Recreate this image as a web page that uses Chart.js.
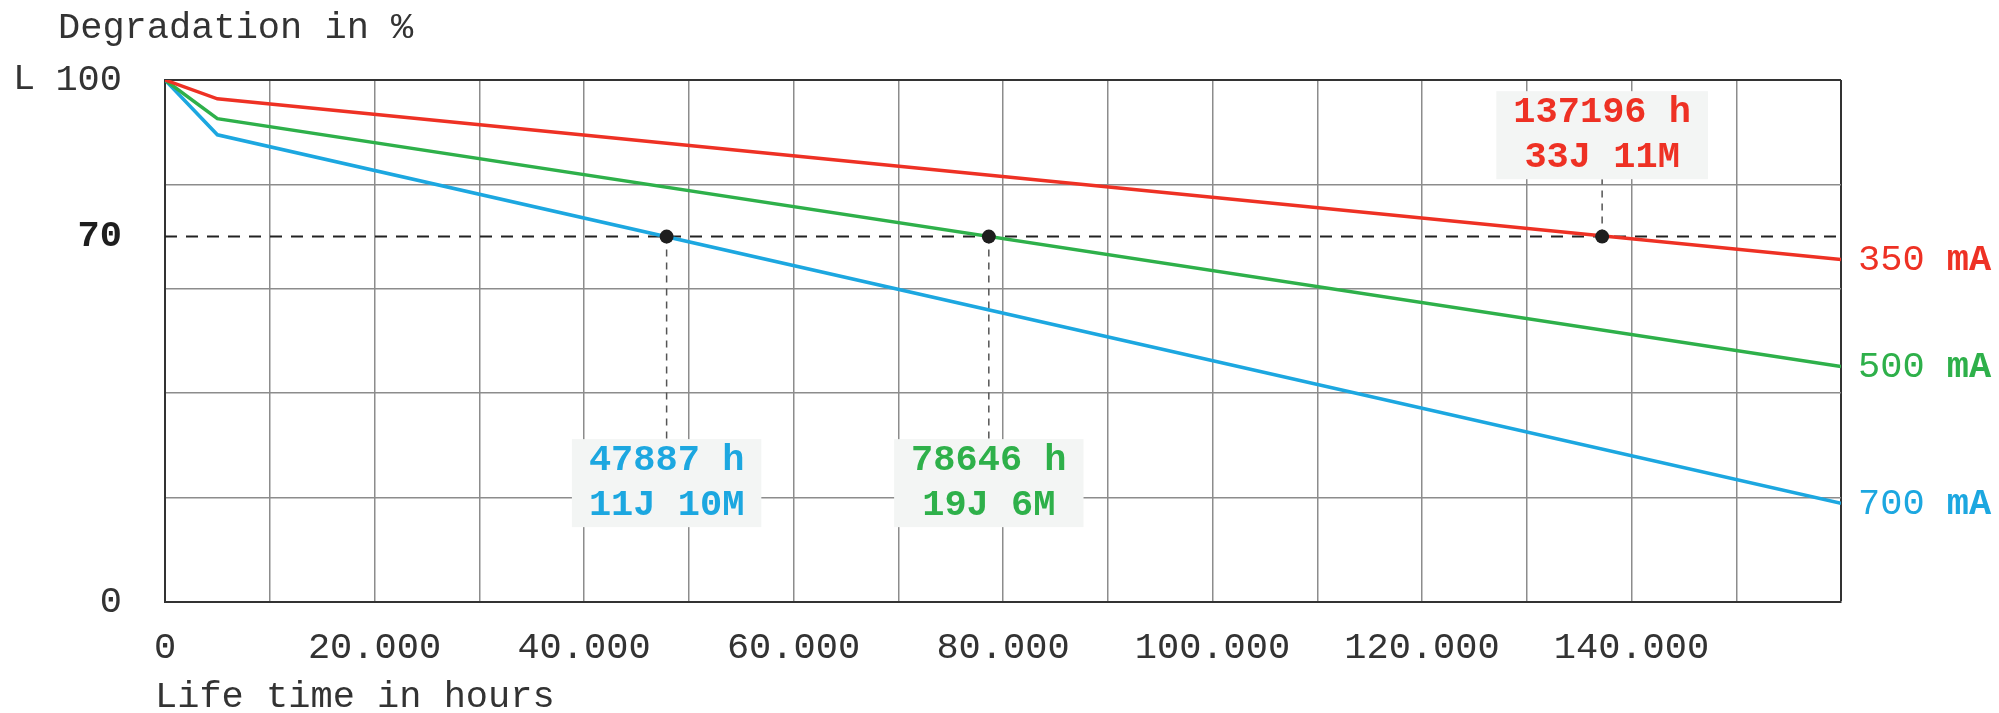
<!DOCTYPE html>
<html>
<head>
<meta charset="utf-8">
<script src="https://cdn.jsdelivr.net/npm/chart.js@4.4.1/dist/chart.umd.min.js"></script>
<style>
html, body { margin: 0; padding: 0; background: #fff; }
</style>
</head>
<body>
<canvas id="lifeChart" width="1999" height="713"></canvas>
<script>
// life time in hours vs remaining luminous flux (%)
const hours = [0, 5000, 160000];
const flux350 = [100, 96.4, 65.6];
const flux500 = [100, 92.6, 45.1];
const flux700 = [100, 89.5, 18.9];
const seriesNames = ['350', '500', '700'];
const seriesColors = ['#ee3124', '#2eb04a', '#1ca7e0'];
const l70Level = 70;
const l70Hours = [137196, 78646, 47887];
const l70Text = [['137196 h', '33J 11M'], ['78646 h', '19J 6M'], ['47887 h', '11J 10M']];
const yTickValues = [0, 20, 40, 60, 70, 80, 100];
const yLabelValues = [0, 70, 100];

const MONO = '"Liberation Mono", "DejaVu Sans Mono", monospace';
const textGray = '#333';

function pts(ys) {
    return hours.map((h, i) => ({ x: h, y: ys[i] }));
}

const annotations = {
    id: 'annotations',
    beforeDatasetsDraw(chart) {
        const ctx = chart.ctx;
        const xs = chart.scales.x, ys = chart.scales.y;
        const dotY = ys.getPixelForValue(l70Level);
        ctx.save();
        ctx.font = 'bold 37px ' + MONO;
        l70Hours.forEach((h, i) => {
            const px = xs.getPixelForValue(h);
            const above = i === 0;
            const w = Math.max(...l70Text[i].map(t => ctx.measureText(t).width)) + 34;
            const hgt = 88;
            const top = above ? ys.getPixelForValue(81) - hgt : ys.getPixelForValue(31.2);
            // connector
            ctx.strokeStyle = '#555';
            ctx.lineWidth = 1.5;
            ctx.setLineDash([7, 6]);
            ctx.beginPath();
            ctx.moveTo(px, dotY);
            ctx.lineTo(px, above ? top + hgt : top);
            ctx.stroke();
            ctx.setLineDash([]);
            // box
            ctx.fillStyle = '#f3f5f4';
            ctx.fillRect(px - w / 2, top, w, hgt);
            ctx.fillStyle = seriesColors[i];
            ctx.textAlign = 'center';
            ctx.textBaseline = 'middle';
            ctx.fillText(l70Text[i][0], px, top + 22);
            ctx.fillText(l70Text[i][1], px, top + 67);
        });
        ctx.restore();
    },
    afterDraw(chart) {
        const ctx = chart.ctx;
        const ys = chart.scales.y;
        ctx.save();
        ctx.textBaseline = 'middle';
        ctx.textAlign = 'left';
        ctx.fillStyle = textGray;
        ctx.font = '37px ' + MONO;
        ctx.fillText('Degradation in %', 58, 28);
        ctx.fillText('L', 13, 79);
        ctx.fillText('Life time in hours', 155, 697);
        // series names at line ends
        [flux350, flux500, flux700].forEach((arr, i) => {
            const y = ys.getPixelForValue(arr[arr.length - 1]);
            let x = 1858;
            ctx.fillStyle = seriesColors[i];
            ctx.font = '37px ' + MONO;
            ctx.fillText(seriesNames[i], x, y + 1);
            x += ctx.measureText(seriesNames[i] + ' ').width;
            ctx.font = 'bold 37px ' + MONO;
            ctx.fillText('mA', x, y + 1);
        });
        ctx.restore();
    }
};

const chart = new Chart(document.getElementById('lifeChart').getContext('2d'), {
    type: 'line',
    data: {
        datasets: [
            {
                label: 'L70',
                data: l70Hours.map(h => ({ x: h, y: l70Level })),
                showLine: false,
                pointRadius: 7,
                pointBackgroundColor: '#1e1e1e',
                pointBorderWidth: 0,
                order: 0
            },
            { label: '350 mA', data: pts(flux350), borderColor: seriesColors[0], borderWidth: 3.5, pointRadius: 0, order: 1 },
            { label: '500 mA', data: pts(flux500), borderColor: seriesColors[1], borderWidth: 3.5, pointRadius: 0, order: 2 },
            { label: '700 mA', data: pts(flux700), borderColor: seriesColors[2], borderWidth: 3.5, pointRadius: 0, order: 3 },
            {
                label: '70 %',
                data: [{ x: 0, y: l70Level }, { x: 160000, y: l70Level }],
                borderColor: '#222',
                borderWidth: 2,
                borderDash: [12, 9],
                pointRadius: 0,
                order: 4
            }
        ]
    },
    options: {
        responsive: false,
        animation: false,
        layout: { padding: { top: 80, right: 158, left: 0, bottom: 0 } },
        plugins: {
            legend: { display: false },
            tooltip: { enabled: false }
        },
        scales: {
            x: {
                type: 'linear',
                min: 0,
                max: 160000,
                afterFit(scale) { scale.height = 111; },
                border: { display: true, color: '#333', width: 2 },
                grid: {
                    drawTicks: false,
                    color: ctx => ctx.tick && ctx.tick.value === 160000 ? '#333' : '#8c8c8c',
                    lineWidth: ctx => ctx.tick && ctx.tick.value === 160000 ? 2 : 1.5
                },
                ticks: {
                    stepSize: 10000,
                    maxRotation: 0,
                    autoSkip: false,
                    padding: 24,
                    color: textGray,
                    font: { family: MONO, size: 37 },
                    callback: v => (v % 20000 === 0 && v < 160000) ? (v === 0 ? '0' : (v / 1000) + '.000') : ''
                }
            },
            y: {
                min: 0,
                max: 100,
                afterFit(scale) { scale.width = 165; },
                afterBuildTicks(scale) { scale.ticks = yTickValues.map(v => ({ value: v })); },
                border: { display: true, color: '#333', width: 2 },
                grid: {
                    drawTicks: false,
                    color: ctx => {
                        if (!ctx.tick) return '#8c8c8c';
                        if (ctx.tick.value === l70Level) return 'rgba(0,0,0,0)';
                        return ctx.tick.value === 100 ? '#333' : '#8c8c8c';
                    },
                    lineWidth: ctx => ctx.tick && ctx.tick.value === 100 ? 2 : 1.5
                },
                ticks: {
                    padding: 43,
                    color: ctx => ctx.tick && ctx.tick.value === l70Level ? '#1e1e1e' : textGray,
                    font: ctx => ({
                        family: MONO,
                        size: 37,
                        weight: ctx.tick && ctx.tick.value === l70Level ? 'bold' : 'normal'
                    }),
                    callback: v => yLabelValues.includes(v) ? String(v) : ''
                }
            }
        }
    },
    plugins: [annotations]
});
</script>
</body>
</html>
